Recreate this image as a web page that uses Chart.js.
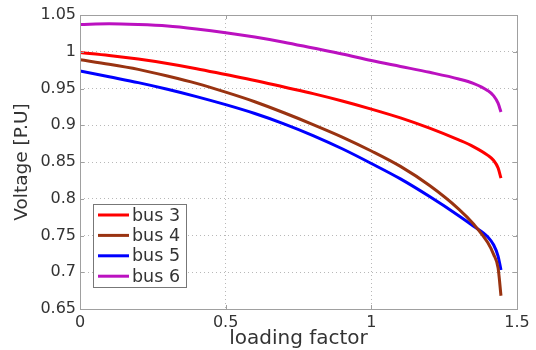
<!DOCTYPE html>
<html>
<head>
<meta charset="utf-8">
<script src="https://cdn.jsdelivr.net/npm/chart.js@4/dist/chart.umd.min.js"></script>
<style>
  body { margin: 0; background: #fff; }
  canvas { display: block; }
</style>
</head>
<body>
<canvas id="pv-chart" width="536" height="350"></canvas>
<script>
// loading factor samples and bus voltages [P.U]
const loadFactor = [0, 0.1, 0.2, 0.3, 0.4, 0.5, 0.6, 0.7, 0.8, 0.9, 1.0, 1.1, 1.2, 1.3, 1.35, 1.4, 1.42, 1.435, 1.445];
const bus3 = [0.999, 0.995, 0.990, 0.984, 0.977, 0.969, 0.961, 0.952, 0.943, 0.933, 0.922, 0.910, 0.896, 0.880, 0.871, 0.859, 0.852, 0.842, 0.828];
const bus4 = [0.989, 0.983, 0.976, 0.967, 0.957, 0.945, 0.932, 0.917, 0.901, 0.884, 0.865, 0.844, 0.818, 0.786, 0.766, 0.740, 0.724, 0.706, 0.668];
const bus5 = [0.974, 0.966, 0.958, 0.949, 0.939, 0.928, 0.916, 0.902, 0.886, 0.868, 0.848, 0.827, 0.803, 0.777, 0.763, 0.748, 0.737, 0.722, 0.703];
const bus6 = [1.037, 1.038, 1.037, 1.035, 1.031, 1.026, 1.020, 1.013, 1.005, 0.997, 0.988, 0.980, 0.972, 0.963, 0.957, 0.947, 0.940, 0.930, 0.918];
const seriesNames = ['bus 3', 'bus 4', 'bus 5', 'bus 6'];
const seriesColors = ['#ff0000', '#993311', '#0000ff', '#bb11c0'];

const FONT = "'DejaVu Sans', sans-serif";

function toPoints(values) {
  return values.map((v, i) => ({ x: loadFactor[i], y: v }));
}

// box round the plot plus small inward tick marks, matlab style
const axesBox = {
  id: 'axesBox',
  afterDatasetsDraw(chart) {
    const { ctx, chartArea: a, scales } = chart;
    ctx.save();
    ctx.strokeStyle = '#a0a0a0';
    ctx.lineWidth = 1;
    ctx.beginPath();
    scales.x.ticks.forEach(t => {
      const px = Math.round(scales.x.getPixelForValue(t.value)) + 0.5;
      ctx.moveTo(px, a.bottom); ctx.lineTo(px, a.bottom - 4);
      ctx.moveTo(px, a.top); ctx.lineTo(px, a.top + 4);
    });
    scales.y.ticks.forEach(t => {
      const py = Math.round(scales.y.getPixelForValue(t.value)) + 0.5;
      ctx.moveTo(a.left, py); ctx.lineTo(a.left + 4, py);
      ctx.moveTo(a.right, py); ctx.lineTo(a.right - 4, py);
    });
    ctx.stroke();
    ctx.strokeRect(Math.round(a.left) + 0.5, Math.round(a.top) + 0.5,
      Math.round(a.right - a.left), Math.round(a.bottom - a.top));
    ctx.restore();
  }
};

// legend sitting inside the plot, lower left
const innerLegend = {
  id: 'innerLegend',
  afterDraw(chart) {
    const { ctx } = chart;
    const x0 = 93, y0 = 204, w = 93, h = 83;
    ctx.save();
    ctx.fillStyle = '#fff';
    ctx.fillRect(x0, y0, w, h);
    ctx.strokeStyle = '#777';
    ctx.lineWidth = 1;
    ctx.strokeRect(x0 + 0.5, y0 + 0.5, w, h);
    ctx.font = '17.5px ' + FONT;
    ctx.textBaseline = 'middle';
    chart.data.datasets.forEach((ds, i) => {
      const cy = 215 + i * 20.4;
      ctx.strokeStyle = ds.borderColor;
      ctx.lineWidth = 3;
      ctx.beginPath();
      ctx.moveTo(98, cy); ctx.lineTo(129, cy);
      ctx.stroke();
      ctx.fillStyle = '#333';
      ctx.fillText(ds.label, 132, cy + 1);
    });
    ctx.restore();
  }
};

new Chart(document.getElementById('pv-chart'), {
  type: 'line',
  data: {
    datasets: [bus3, bus4, bus5, bus6].map((vals, i) => ({
      label: seriesNames[i],
      data: toPoints(vals),
      borderColor: seriesColors[i],
      borderWidth: 3,
      pointRadius: 0,
      cubicInterpolationMode: 'monotone',
      fill: false
    }))
  },
  options: {
    responsive: false,
    animation: false,
    layout: { padding: { left: 0, right: 19, top: 15, bottom: 0 } },
    plugins: { legend: { display: false }, tooltip: { enabled: false } },
    scales: {
      x: {
        type: 'linear',
        min: 0,
        max: 1.5,
        afterFit: s => { s.height = 41; },
        ticks: {
          stepSize: 0.5,
          padding: 4,
          color: '#333',
          font: { family: FONT, size: 16 },
          callback: v => String(parseFloat(v.toFixed(2)))
        },
        grid: { color: '#b8b8b8', drawTicks: false },
        border: { display: false, dash: [1, 3] },
        title: {
          display: true,
          text: 'loading factor',
          color: '#333',
          font: { family: FONT, size: 20 },
          padding: { top: 0, bottom: -1 }
        }
      },
      y: {
        min: 0.65,
        max: 1.05,
        afterFit: s => { s.width = 80; },
        ticks: {
          stepSize: 0.05,
          padding: 4,
          color: '#333',
          font: { family: FONT, size: 16 },
          callback: v => String(parseFloat(v.toFixed(2)))
        },
        grid: { color: '#b8b8b8', drawTicks: false },
        border: { display: false, dash: [1, 3] },
        title: {
          display: true,
          text: 'Voltage [P.U]',
          color: '#333',
          font: { family: FONT, size: 18.5 },
          padding: { top: 11, bottom: 0 }
        }
      }
    }
  },
  plugins: [axesBox, innerLegend]
});
</script>
</body>
</html>
